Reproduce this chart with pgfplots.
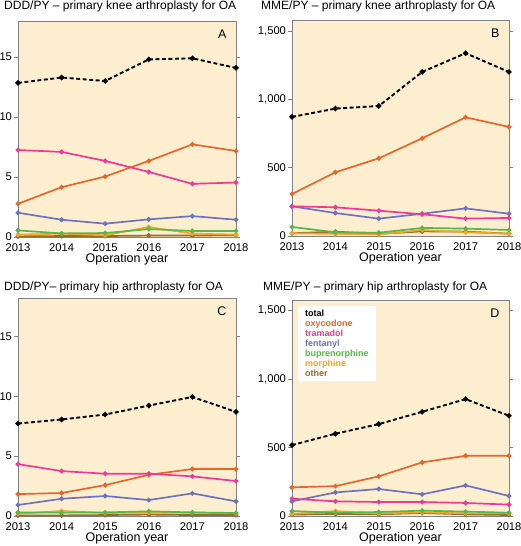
\documentclass[border=0pt]{standalone}
\usepackage{fontspec}
\setmainfont{Liberation Sans}
\usepackage{pgfplots}
\pgfplotsset{compat=1.18}
\definecolor{bg}{RGB}{253,238,207}
\definecolor{axgray}{RGB}{130,130,130}
\definecolor{coxy}{RGB}{232,102,44}
\definecolor{ctra}{RGB}{238,58,150}
\definecolor{cfen}{RGB}{110,115,192}
\definecolor{cbup}{RGB}{85,184,71}
\definecolor{cmor}{RGB}{242,165,43}
\definecolor{coth}{RGB}{154,106,42}
\pgfplotsset{
  panel/.style={
    scale only axis, width=218pt, height=216pt,
    xmin=2013, xmax=2018, ymin=0,
    axis background/.style={fill=bg},
    axis line style={draw=axgray, line width=0.7pt},
    xtick={2013,2014,2015,2016,2017,2018},
    /pgf/number format/assume math mode=true,
    xticklabel style={/pgf/number format/1000 sep={}, font=\fontsize{11.2}{12}\selectfont, yshift=1pt},
    yticklabel style={font=\fontsize{11.2}{12}\selectfont, xshift=1.5pt},
    tick align=outside,
    major tick length=4pt,
    xtick style={draw=none},
    ytick style={draw=axgray, line width=0.6pt},
    xlabel={Operation year},
    xlabel style={font=\fontsize{12.5}{13}\selectfont, yshift=5pt},
    clip=false,
  },
  tot/.style={black, line width=1.9pt, dash pattern=on 4pt off 2.5pt, mark=*, mark size=1.6pt, mark options={solid}},
  ser/.style={#1, line width=1.7pt, mark=*, mark size=1.5pt, mark options={solid}},
}
\begin{document}
\begin{tikzpicture}[x=1pt,y=1pt]
% ---------------- A ----------------
\begin{axis}[panel, at={(0pt,0pt)}, anchor=south west, ymax=18, ytick={0,5,10,15}]
\addplot[ser=coth] coordinates {(2013,0.05) (2014,0.08) (2015,0.08) (2016,0.12) (2017,0.12) (2018,0.15)};
\addplot[ser=cmor] coordinates {(2013,0.2) (2014,0.28) (2015,0.14) (2016,0.83) (2017,0.28) (2018,0.2)};
\addplot[ser=cbup] coordinates {(2013,0.55) (2014,0.3) (2015,0.33) (2016,0.66) (2017,0.5) (2018,0.5)};
\addplot[ser=cfen] coordinates {(2013,2.02) (2014,1.44) (2015,1.11) (2016,1.47) (2017,1.74) (2018,1.44)};
\addplot[ser=coxy] coordinates {(2013,2.77) (2014,4.15) (2015,5.04) (2016,6.34) (2017,7.72) (2018,7.17)};
\addplot[ser=ctra] coordinates {(2013,7.25) (2014,7.09) (2015,6.34) (2016,5.42) (2017,4.43) (2018,4.54)};
\addplot[tot] coordinates {(2013,12.84) (2014,13.29) (2015,13.0) (2016,14.8) (2017,14.89) (2018,14.09)};
\node[anchor=north east, font=\fontsize{12.5}{13}\selectfont] at ([xshift=-6pt,yshift=-5pt]rel axis cs:1,1) {A};
\end{axis}
% ---------------- B ----------------
\begin{axis}[panel, at={(274pt,1pt)}, anchor=south west, width=217pt, ymax=1580, ytick={0,500,1000,1500}]
\addplot[ser=coth] coordinates {(2013,20) (2014,32) (2015,15) (2016,34) (2017,32) (2018,17)};
\addplot[ser=cmor] coordinates {(2013,20) (2014,15) (2015,12) (2016,44) (2017,27) (2018,17)};
\addplot[ser=cbup] coordinates {(2013,66) (2014,27) (2015,24) (2016,59) (2017,54) (2018,44)};
\addplot[ser=cfen] coordinates {(2013,217) (2014,168) (2015,127) (2016,163) (2017,202) (2018,163)};
\addplot[ser=coxy] coordinates {(2013,307) (2014,466) (2015,568) (2016,715) (2017,868) (2018,798)};
\addplot[ser=ctra] coordinates {(2013,217) (2014,210) (2015,185) (2016,159) (2017,127) (2018,132)};
\addplot[tot] coordinates {(2013,871) (2014,932) (2015,951) (2016,1200) (2017,1337) (2018,1200)};
\node[anchor=north east, font=\fontsize{12.5}{13}\selectfont] at ([xshift=-6pt,yshift=-5pt]rel axis cs:1,1) {B};
\end{axis}
% ---------------- C ----------------
\begin{axis}[panel, at={(0pt,-279pt)}, anchor=south west, height=218pt, ymax=18.2, ytick={0,5,10,15}]
\addplot[ser=coth] coordinates {(2013,0.05) (2014,0.05) (2015,0.08) (2016,0.12) (2017,0.08) (2018,0.08)};
\addplot[ser=cmor] coordinates {(2013,0.19) (2014,0.42) (2015,0.25) (2016,0.28) (2017,0.28) (2018,0.22)};
\addplot[ser=cbup] coordinates {(2013,0.3) (2014,0.28) (2015,0.3) (2016,0.39) (2017,0.3) (2018,0.25)};
\addplot[ser=cfen] coordinates {(2013,0.92) (2014,1.44) (2015,1.67) (2016,1.33) (2017,1.89) (2018,1.22)};
\addplot[ser=coxy] coordinates {(2013,1.83) (2014,1.92) (2015,2.58) (2016,3.44) (2017,3.92) (2018,3.92)};
\addplot[ser=ctra] coordinates {(2013,4.33) (2014,3.75) (2015,3.53) (2016,3.53) (2017,3.31) (2018,2.92)};
\addplot[tot] coordinates {(2013,7.72) (2014,8.06) (2015,8.47) (2016,9.22) (2017,9.94) (2018,8.69)};
\node[anchor=north east, font=\fontsize{12.5}{13}\selectfont] at ([xshift=-6pt,yshift=-5pt]rel axis cs:1,1) {C};
\end{axis}
% ---------------- D ----------------
\begin{axis}[panel, at={(274pt,-279pt)}, anchor=south west, width=217pt, ymax=1575, ytick={0,500,1000,1500}]
\addplot[ser=coth] coordinates {(2013,10) (2014,15) (2015,12) (2016,22) (2017,12) (2018,7)};
\addplot[ser=cmor] coordinates {(2013,15) (2014,36) (2015,19) (2016,27) (2017,19) (2018,19)};
\addplot[ser=cbup] coordinates {(2013,36) (2014,24) (2015,29) (2016,39) (2017,32) (2018,24)};
\addplot[ser=cfen] coordinates {(2013,107) (2014,172) (2015,197) (2016,158) (2017,223) (2018,146)};
\addplot[ser=coxy] coordinates {(2013,209) (2014,218) (2015,289) (2016,391) (2017,439) (2018,439)};
\addplot[ser=ctra] coordinates {(2013,126) (2014,107) (2015,102) (2016,102) (2017,95) (2018,83)};
\addplot[tot] coordinates {(2013,517) (2014,600) (2015,670) (2016,760) (2017,852) (2018,731)};
\node[anchor=north east, font=\fontsize{12.5}{13}\selectfont] at ([xshift=-6pt,yshift=-5pt]rel axis cs:1,1) {D};
\node[anchor=north west, fill=white, inner xsep=7pt, inner ysep=4pt, align=left, font=\fontsize{9}{10}\selectfont\bfseries] at ([xshift=6pt,yshift=-6pt]rel axis cs:0,1)
 {\textcolor{black}{total}\\ \textcolor{coxy}{oxycodone}\\ \textcolor{ctra}{tramadol}\\ \textcolor{cfen}{fentanyl}\\ \textcolor{cbup}{buprenorphine}\\ \textcolor{cmor}{morphine}\\ \textcolor{coth}{other}};
\end{axis}
% ---------------- titles ----------------
\node[anchor=base west, font=\fontsize{12}{13}\selectfont, inner sep=0pt] at (-14pt,227pt) {DDD/PY – primary knee arthroplasty for OA};
\node[anchor=base west, font=\fontsize{12}{13}\selectfont, inner sep=0pt] at (243pt,227pt) {MME/PY – primary knee arthroplasty for OA};
\node[anchor=base west, font=\fontsize{12}{13}\selectfont, inner sep=0pt] at (-14pt,-53pt) {DDD/PY– primary hip arthroplasty for OA};
\node[anchor=base west, font=\fontsize{12}{13}\selectfont, inner sep=0pt] at (245pt,-53pt) {MME/PY – primary hip arthroplasty for OA};
\pgfresetboundingbox
\path[use as bounding box] (-18pt,-309pt) rectangle (502pt,237pt);
\end{tikzpicture}
\end{document}
